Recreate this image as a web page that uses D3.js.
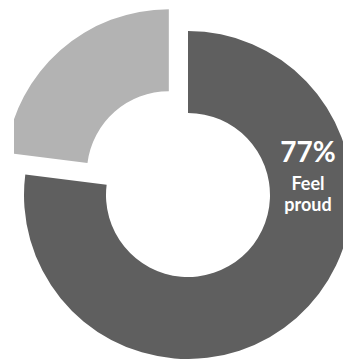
<!DOCTYPE html>
<html>
<head>
<meta charset="utf-8">
<script src="https://cdn.jsdelivr.net/npm/d3@7"></script>
<style>
  html, body { margin: 0; padding: 0; background: #fff; }
  svg { display: block; }
</style>
</head>
<body>
<script>
// Share of respondents
const categories = ["Feel proud", "Other"];
const values = [77, 23];
const colors = ["#5f5f5f", "#b3b3b3"];
const labelValue = "77%";
const labelLines = ["Feel", "proud"];

const W = 343, H = 359;
const cx = 188, cy = 195;
const innerR = 82, outerR = 164;
const explode = 29;

const svg = d3.select("body").append("svg")
  .attr("width", W).attr("height", H);

svg.append("defs").append("clipPath").attr("id", "frame")
  .append("rect").attr("x", 14).attr("y", 0).attr("width", W - 14).attr("height", H);

const pie = d3.pie().sort(null).value(d => d)(values);
const arc = d3.arc().innerRadius(innerR).outerRadius(outerR);

const g = svg.append("g").attr("clip-path", "url(#frame)")
  .append("g").attr("transform", `translate(${cx},${cy})`);

g.selectAll("path").data(pie).join("path")
  .attr("d", arc)
  .attr("fill", (d, i) => colors[i])
  .attr("transform", (d, i) => {
    if (i === 0) return null;
    const a = (d.startAngle + d.endAngle) / 2;
    return `translate(${Math.sin(a) * explode},${-Math.cos(a) * explode})`;
  });

// Label on the main slice
const lx = 308;
const t = svg.append("g").attr("fill", "#fff")
  .attr("font-family", "'Lato', 'Open Sans', sans-serif")
  .attr("font-weight", "bold")
  .attr("text-anchor", "middle");
t.append("text").attr("x", lx).attr("y", 162).attr("font-size", 28).text(labelValue);
t.append("text").attr("x", lx).attr("y", 190).attr("font-size", 18).text(labelLines[0]);
t.append("text").attr("x", lx).attr("y", 211).attr("font-size", 18).text(labelLines[1]);
</script>
</body>
</html>
